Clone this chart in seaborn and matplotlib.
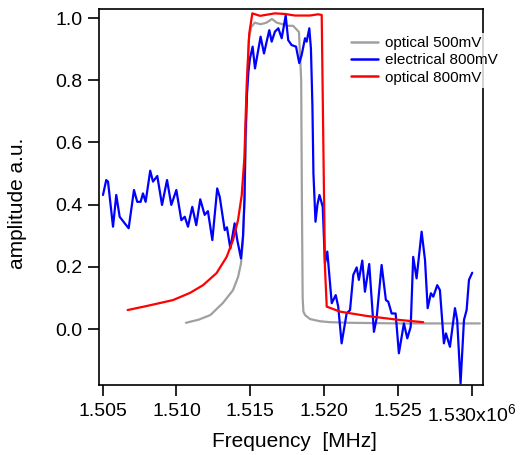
import matplotlib
matplotlib.use("Agg")
import matplotlib.pyplot as plt
import numpy as np
import pandas as pd
import seaborn as sns

# Frequencies in units of 10^6 MHz, amplitudes in a.u.
freq_opt500 = [1.51064, 1.51150, 1.51230, 1.51315, 1.51383, 1.51417, 1.51437, 1.51450,
               1.51460, 1.51470, 1.51480, 1.51490, 1.51505, 1.51530, 1.51570, 1.51610,
               1.51647, 1.51680, 1.51720, 1.51750, 1.51790, 1.51830, 1.51845, 1.51850,
               1.51855, 1.51860, 1.51871, 1.51905, 1.51972, 1.52040, 1.52175, 1.52514,
               1.52853, 1.53056]
amp_opt500 = [0.020, 0.030, 0.045, 0.084, 0.125, 0.167, 0.210, 0.280,
              0.400, 0.600, 0.800, 0.930, 0.970, 0.985, 0.980, 0.985,
              0.997, 0.985, 0.980, 0.975, 0.975, 0.955, 0.800, 0.400,
              0.100, 0.056, 0.045, 0.032, 0.025, 0.022, 0.020, 0.018,
              0.018, 0.018]

freq_elec800 = [1.50502, 1.50524, 1.50536, 1.50570, 1.50592, 1.50615, 1.50649, 1.50676,
                1.50712, 1.50734, 1.50757, 1.50773, 1.50791, 1.50822, 1.50841, 1.50870,
                1.50902, 1.50936, 1.50965, 1.50999, 1.51033, 1.51056, 1.51078, 1.51107,
                1.51134, 1.51161, 1.51191, 1.51213, 1.51243, 1.51276, 1.51293, 1.51327,
                1.51342, 1.51365, 1.51394, 1.51412, 1.51437, 1.51451, 1.51461, 1.51467,
                1.51478, 1.51488, 1.51498, 1.51516, 1.51532, 1.51554, 1.51570, 1.51593,
                1.51611, 1.51629, 1.51645, 1.51667, 1.51690, 1.51713, 1.51740, 1.51757,
                1.51780, 1.51810, 1.51832, 1.51848, 1.51871, 1.51882, 1.51900, 1.51911,
                1.51921, 1.51928, 1.51942, 1.51955, 1.51969, 1.51991, 1.52006, 1.52022,
                1.52052, 1.52079, 1.52096, 1.52119, 1.52153, 1.52176, 1.52198, 1.52221,
                1.52236, 1.52259, 1.52277, 1.52306, 1.52338, 1.52356, 1.52390, 1.52419,
                1.52435, 1.52458, 1.52485, 1.52507, 1.52541, 1.52564, 1.52587, 1.52604,
                1.52627, 1.52661, 1.52684, 1.52702, 1.52724, 1.52740, 1.52767, 1.52785,
                1.52812, 1.52826, 1.52853, 1.52887, 1.52902, 1.52925, 1.52948, 1.52966,
                1.52982, 1.53004]
amp_elec800 = [0.431, 0.479, 0.474, 0.329, 0.431, 0.361, 0.340, 0.324,
               0.447, 0.409, 0.409, 0.436, 0.409, 0.509, 0.474, 0.492,
               0.399, 0.479, 0.399, 0.447, 0.350, 0.361, 0.329, 0.393,
               0.334, 0.417, 0.367, 0.379, 0.286, 0.452, 0.425, 0.318,
               0.327, 0.259, 0.340, 0.286, 0.227, 0.300, 0.420, 0.620,
               0.760, 0.830, 0.870, 0.908, 0.838, 0.897, 0.940, 0.886,
               0.924, 0.961, 0.924, 0.956, 0.967, 0.935, 1.008, 0.929,
               0.913, 0.908, 0.855, 0.881, 0.935, 0.924, 0.967, 0.902,
               0.720, 0.500, 0.345, 0.400, 0.431, 0.393, 0.211, 0.249,
               0.083, 0.109, 0.072, -0.046, 0.050, 0.061, 0.174, 0.198,
               0.158, 0.220, 0.120, 0.209, -0.009, 0.034, 0.206, 0.093,
               0.088, 0.050, 0.050, -0.078, 0.018, -0.030, 0.007, 0.232,
               0.163, 0.313, 0.222, 0.067, 0.115, 0.104, 0.141, 0.125,
               -0.046, -0.014, -0.057, 0.067, 0.029, -0.175, 0.029, 0.061,
               0.158, 0.181]

freq_opt800 = [1.50669, 1.50798, 1.50976, 1.51091, 1.51180, 1.51272, 1.51340, 1.51383,
               1.51417, 1.51442, 1.51460, 1.51476, 1.51493, 1.51514, 1.51566, 1.51667,
               1.51735, 1.51803, 1.51905, 1.51959, 1.51984, 1.51995, 1.52006, 1.52018,
               1.52108, 1.52289, 1.52514, 1.52672]
amp_opt800 = [0.061, 0.074, 0.093, 0.116, 0.141, 0.180, 0.232, 0.286,
              0.350, 0.430, 0.550, 0.790, 0.950, 1.015, 1.007, 1.015,
              1.013, 1.008, 1.008, 1.012, 1.010, 0.600, 0.200, 0.072,
              0.056, 0.042, 0.029, 0.022]

series_names = ["optical 500mV", "electrical 800mV", "optical 800mV"]
series_colors = ["#A0A0A0", "#0000FF", "#FF0000"]

x_ticks = [1.505, 1.510, 1.515, 1.520, 1.525, 1.530]
x_tick_labels = ["1.505", "1.510", "1.515", "1.520", "1.525", "1.530x10$^{6}$"]
y_ticks = [0.0, 0.2, 0.4, 0.6, 0.8, 1.0]

frames = []
for name, f, a in zip(series_names,
                      [freq_opt500, freq_elec800, freq_opt800],
                      [amp_opt500, amp_elec800, amp_opt800]):
    frames.append(pd.DataFrame({"freq": np.asarray(f) * 1e6, "amp": a, "trace": name}))
data = pd.concat(frames, ignore_index=True)

sns.set_style("ticks")
plt.rcParams["font.family"] = ["Liberation Sans", "DejaVu Sans"]
plt.rcParams["mathtext.fontset"] = "custom"
plt.rcParams["mathtext.rm"] = "Liberation Sans"
plt.rcParams["mathtext.default"] = "regular"
plt.rcParams["text.color"] = "black"
plt.rcParams["axes.labelcolor"] = "black"
plt.rcParams["xtick.color"] = "black"
plt.rcParams["ytick.color"] = "black"
plt.rcParams["lines.solid_joinstyle"] = "round"

fig = plt.figure(figsize=(5.22, 4.55), dpi=100)
ax = fig.add_axes([99 / 522, 1 - 385 / 455, 384 / 522, 376 / 455])

sns.lineplot(data=data, x="freq", y="amp", hue="trace", hue_order=series_names,
             palette=dict(zip(series_names, series_colors)), sort=False,
             estimator=None, linewidth=1.6, ax=ax)

ax.set_xlim(1.50475e6, 1.53077e6)
ax.set_ylim(-0.18, 1.029)

ax.set_xticks([t * 1e6 for t in x_ticks])
ax.set_xticklabels(x_tick_labels)
ax.set_yticks(y_ticks)
ax.set_yticklabels([f"{t:.1f}" for t in y_ticks])

ax.tick_params(axis="both", direction="out", length=8, width=1.2, color="black",
               labelsize=14, labelcolor="black")
ax.tick_params(axis="x", pad=5)
ax.tick_params(axis="y", pad=4)
for side in ["left", "right", "top", "bottom"]:
    ax.spines[side].set_visible(True)
    ax.spines[side].set_color("black")
    ax.spines[side].set_linewidth(1.2)

ax.set_xlabel("Frequency  [MHz]", fontsize=15, color="black")
ax.set_ylabel("amplitude a.u.", fontsize=15, color="black")
ax.xaxis.label.set_va("center")
ax.yaxis.label.set_va("center")
ax.xaxis.set_label_coords(0.508, -0.151)
ax.yaxis.set_label_coords(-0.211, 0.484)

leg = ax.legend(loc="upper left", bbox_to_anchor=(348 / 522, 1 - 33 / 455),
                bbox_transform=fig.transFigure, frameon=True, fontsize=11,
                handlelength=1.75, handletextpad=0.45, labelspacing=0.22,
                borderpad=0.2, borderaxespad=0)
leg.get_frame().set_facecolor("white")
leg.get_frame().set_edgecolor("white")
leg.get_frame().set_linewidth(0)
leg.get_frame().set_boxstyle("square", pad=0)
for line in leg.get_lines():
    line.set_linewidth(1.8)
for txt in leg.get_texts():
    txt.set_color("black")
leg.set_zorder(10)

fig.savefig("out.png", dpi=100)
